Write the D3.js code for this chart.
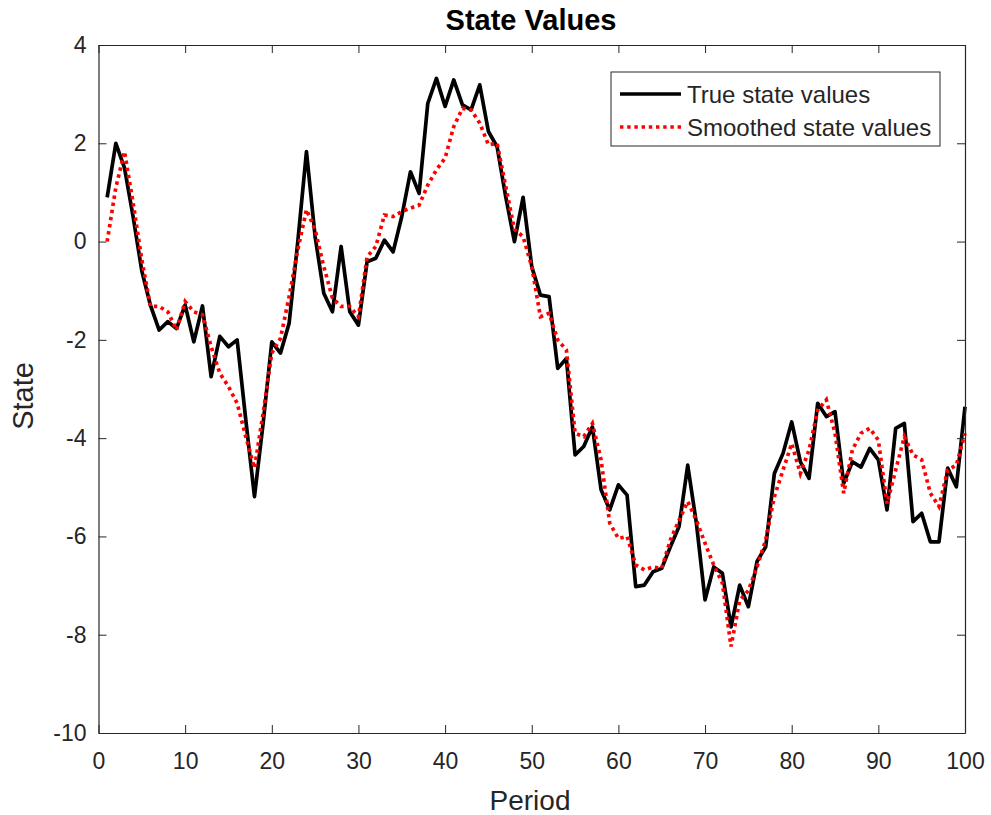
<!DOCTYPE html>
<html lang="en">
  <head>
    <meta charset="UTF-8" />
    <title>State Values</title>
    <script src="https://cdn.jsdelivr.net/npm/d3@7/dist/d3.min.js"></script>
    <style>
      html,
      body {
        margin: 0;
        padding: 0;
        background: #fff;
      }
      svg {
        display: block;
        font-family: 'Liberation Sans', Arial, Helvetica, sans-serif;
      }
    </style>
  </head>
  <body>
    <svg width="991" height="815"></svg>
    <script>
      // values
      const periods = d3.range(1, 101);

      const trueState = [
        0.9, 2.0, 1.5, 0.5, -0.6, -1.3, -1.8, -1.63, -1.77, -1.29,
        -2.04, -1.31, -2.75, -1.93, -2.14, -2.0, -3.63, -5.19, -3.7, -2.04,
        -2.27, -1.66, 0.0, 1.83, 0.1, -1.05, -1.43, -0.1, -1.43, -1.7,
        -0.41, -0.34, 0.03, -0.21, 0.51, 1.42, 0.98, 2.81, 3.32, 2.75,
        3.29, 2.78, 2.68, 3.19, 2.24, 1.93, 0.91, 0.0, 0.9, -0.51,
        -1.09, -1.12, -2.58, -2.38, -4.34, -4.17, -3.77, -5.05, -5.46, -4.95,
        -5.16, -7.02, -6.99, -6.72, -6.65, -6.21, -5.8, -4.55, -5.73, -7.29,
        -6.62, -6.75, -7.84, -6.99, -7.43, -6.51, -6.21, -4.72, -4.31, -3.67,
        -4.48, -4.82, -3.29, -3.56, -3.46, -4.92, -4.48, -4.59, -4.21, -4.44,
        -5.46, -3.8, -3.7, -5.7, -5.53, -6.11, -6.11, -4.61, -4.99, -3.36
      ];

      const smoothedState = [
        0.0, 1.1, 1.83, 0.78, -0.37, -1.32, -1.32, -1.43, -1.8, -1.22,
        -1.43, -1.49, -2.14, -2.68, -2.95, -3.29, -3.97, -4.61, -3.49, -2.27,
        -1.97, -1.12, -0.17, 0.65, 0.24, -0.51, -1.15, -1.32, -1.32, -1.53,
        -0.31, -0.1, 0.54, 0.51, 0.61, 0.68, 0.74, 1.15, 1.46, 1.7,
        2.34, 2.71, 2.68, 2.41, 1.97, 2.0, 1.12, 0.25, 0.1, -0.51,
        -1.53, -1.46, -2.0, -2.21, -3.9, -3.97, -3.7, -4.44, -5.73, -6.04,
        -6.0, -6.58, -6.68, -6.62, -6.65, -6.07, -5.67, -5.29, -5.67, -6.14,
        -6.58, -6.95, -8.24, -7.3, -7.1, -6.62, -6.07, -5.19, -4.65, -4.11,
        -4.72, -4.24, -3.43, -3.22, -3.9, -5.12, -4.24, -3.9, -3.8, -4.04,
        -5.33, -4.65, -3.97, -4.34, -4.44, -5.12, -5.39, -4.65, -4.55, -3.9
      ];

      const xTicks = [0, 10, 20, 30, 40, 50, 60, 70, 80, 90, 100];
      const yTicks = [-10, -8, -6, -4, -2, 0, 2, 4];

      const seriesNames = ['True state values', 'Smoothed state values'];

      const svg = d3.select('svg');
      const axisColor = '#262626';

      const plotLeft = 98.5;
      const plotRight = 965;
      const plotTop = 45;
      const plotBottom = 733;

      const xScale = d3.scaleLinear().domain([0, 100]).range([plotLeft, plotRight]);
      const yScale = d3.scaleLinear().domain([-10, 4]).range([plotBottom, plotTop]);

      // lines first, box drawn over them
      const line = d3
        .line()
        .x((d, i) => xScale(periods[i]))
        .y(d => yScale(d));

      svg
        .append('path')
        .datum(trueState)
        .attr('d', line)
        .attr('fill', 'none')
        .attr('stroke', '#000')
        .attr('stroke-width', 3.7)
        .attr('stroke-linejoin', 'round');

      svg
        .append('path')
        .datum(smoothedState)
        .attr('d', line)
        .attr('fill', 'none')
        .attr('stroke', '#ff0000')
        .attr('stroke-width', 3.7)
        .attr('stroke-dasharray', '3.4,3.8');

      // axes, MATLAB style: ticks inside, box all round
      const tickLen = 8;
      const plain = d => String(d); // hyphen minus like the reference
      const xAxisBottom = d3
        .axisBottom(xScale)
        .tickValues(xTicks)
        .tickFormat(plain)
        .tickSizeInner(-tickLen)
        .tickSizeOuter(0)
        .tickPadding(20);
      const xAxisTop = d3
        .axisTop(xScale)
        .tickValues(xTicks)
        .tickSizeInner(-tickLen)
        .tickSizeOuter(0)
        .tickFormat('');
      const yAxisLeft = d3
        .axisLeft(yScale)
        .tickValues(yTicks)
        .tickFormat(plain)
        .tickSizeInner(-tickLen)
        .tickSizeOuter(0)
        .tickPadding(12);
      const yAxisRight = d3
        .axisRight(yScale)
        .tickValues(yTicks)
        .tickSizeInner(-tickLen)
        .tickSizeOuter(0)
        .tickFormat('');

      function styleAxis(g) {
        g.selectAll('path').attr('stroke', axisColor).attr('stroke-width', 1.2);
        g.selectAll('line').attr('stroke', axisColor).attr('stroke-width', 1);
        g.selectAll('text')
          .attr('fill', axisColor)
          .style('font-size', '23px')
          .style('font-family', "'Liberation Sans', Arial, sans-serif");
      }

      svg
        .append('g')
        .attr('transform', `translate(0,${plotBottom})`)
        .call(xAxisBottom)
        .call(styleAxis);
      svg
        .append('g')
        .attr('transform', `translate(0,${plotTop})`)
        .call(xAxisTop)
        .call(styleAxis);
      svg
        .append('g')
        .attr('transform', `translate(${plotLeft},0)`)
        .call(yAxisLeft)
        .call(styleAxis);
      svg
        .append('g')
        .attr('transform', `translate(${plotRight},0)`)
        .call(yAxisRight)
        .call(styleAxis);

      // title and labels
      svg
        .append('text')
        .attr('x', 531)
        .attr('y', 30)
        .attr('text-anchor', 'middle')
        .style('font-size', '29px')
        .style('font-weight', 'bold')
        .attr('fill', '#000')
        .text('State Values');

      svg
        .append('text')
        .attr('x', 530)
        .attr('y', 810)
        .attr('text-anchor', 'middle')
        .style('font-size', '28px')
        .attr('fill', axisColor)
        .text('Period');

      svg
        .append('text')
        .attr('transform', `translate(33,396) rotate(-90)`)
        .attr('text-anchor', 'middle')
        .style('font-size', '29px')
        .attr('fill', axisColor)
        .text('State');

      // legend
      const legend = svg.append('g').attr('transform', 'translate(611,72)');
      legend
        .append('rect')
        .attr('width', 329)
        .attr('height', 74)
        .attr('fill', '#fff')
        .attr('stroke', axisColor)
        .attr('stroke-width', 1);

      const legendStyles = [
        { stroke: '#000', dash: null },
        { stroke: '#ff0000', dash: '3.4,3.8' }
      ];

      seriesNames.forEach((name, i) => {
        const y = 22 + i * 33;
        legend
          .append('line')
          .attr('x1', 9)
          .attr('x2', 70)
          .attr('y1', y)
          .attr('y2', y)
          .attr('stroke', legendStyles[i].stroke)
          .attr('stroke-width', 3.7)
          .attr('stroke-dasharray', legendStyles[i].dash);
        legend
          .append('text')
          .attr('x', 76)
          .attr('y', y + 8.5)
          .style('font-size', '24px')
          .attr('fill', axisColor)
          .text(name);
      });
    </script>
  </body>
</html>
